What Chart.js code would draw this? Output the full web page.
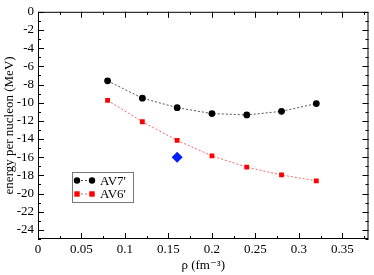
<!DOCTYPE html>
<html>
<head>
<meta charset="utf-8">
<script src="https://cdn.jsdelivr.net/npm/chart.js@4"></script>
<style>
  html, body { margin: 0; padding: 0; background: #fff; }
  #wrap { width: 374px; height: 275px; }
</style>
</head>
<body>
<div id="wrap"><canvas id="chart" width="374" height="275"></canvas></div>
<script>
const densities = [0.08, 0.12, 0.16, 0.20, 0.24, 0.28, 0.32];
const av7 = [-7.6, -9.5, -10.55, -11.2, -11.35, -10.95, -10.1];
const av6 = [-9.75, -12.1, -14.15, -15.85, -17.1, -17.95, -18.6];
const extraPoint = [{ x: 0.16, y: -16.0 }];
const xTicks = [0, 0.05, 0.1, 0.15, 0.2, 0.25, 0.3, 0.35];
const yTicks = [0, -2, -4, -6, -8, -10, -12, -14, -16, -18, -20, -22, -24];
const labels = ["AV7'", "AV6'"];

const FONT = "'Liberation Serif', 'DejaVu Serif', serif";

function pts(ys) {
  return densities.map((x, i) => ({ x, y: ys[i] }));
}

// frame + inward ticks on all four sides, like the original plot
const framePlugin = {
  id: "frame",
  afterDatasetsDraw(chart) {
    const { ctx, chartArea: a, scales } = chart;
    ctx.save();
    ctx.strokeStyle = "#000";
    ctx.lineWidth = 1;
    ctx.strokeRect(a.left + 0.5, a.top + 0.5, a.right - a.left - 1, a.bottom - a.top - 1);
    ctx.beginPath();
    for (let v = 0; v <= 0.38 + 1e-9; v += 0.025) {
      const x = Math.round(scales.x.getPixelForValue(v)) + 0.5;
      const len = Math.abs(v / 0.05 - Math.round(v / 0.05)) < 1e-6 ? 6 : 3;
      ctx.moveTo(x, a.bottom); ctx.lineTo(x, a.bottom - len);
      ctx.moveTo(x, a.top); ctx.lineTo(x, a.top + len);
    }
    for (let v = 0; v >= -25; v -= 1) {
      const y = Math.round(scales.y.getPixelForValue(v)) + 0.5;
      const len = v % 2 === 0 ? 6 : 3;
      ctx.moveTo(a.left, y); ctx.lineTo(a.left + len, y);
      ctx.moveTo(a.right, y); ctx.lineTo(a.right - len, y);
    }
    ctx.stroke();

    // legend box
    const bx = 72, by = 172, bw = 61, bh = 30;
    ctx.fillStyle = "#fff";
    ctx.fillRect(bx, by, bw, bh);
    ctx.strokeStyle = "#777";
    ctx.strokeRect(bx + 0.5, by + 0.5, bw, bh);
    chart.data.datasets.slice(0, 2).forEach((ds, i) => {
      const y = by + 8.5 + i * 13.5;
      ctx.strokeStyle = ds.borderColor;
      ctx.setLineDash(ds.borderDash);
      ctx.beginPath();
      ctx.moveTo(77, y); ctx.lineTo(92, y);
      ctx.stroke();
      ctx.setLineDash([]);
      ctx.fillStyle = ds.pointBackgroundColor;
      [77, 92].forEach(px => {
        ctx.beginPath();
        if (ds.pointStyle === "rect") ctx.rect(px - 2.7, y - 2.7, 5.4, 5.4);
        else ctx.arc(px, y, 3.2, 0, Math.PI * 2);
        ctx.fill();
      });
      ctx.fillStyle = "#000";
      ctx.font = "13px " + FONT;
      ctx.textBaseline = "middle";
      ctx.fillText(ds.label, 100, y + 1);
    });
    ctx.restore();
  }
};

new Chart(document.getElementById("chart"), {
  type: "scatter",
  data: {
    datasets: [
      {
        label: labels[0],
        data: pts(av7),
        showLine: true,
        borderColor: "#555",
        borderWidth: 1,
        borderDash: [2, 2],
        pointStyle: "circle",
        pointRadius: 3.4,
        pointBackgroundColor: "#000",
        pointBorderColor: "#000",
        pointBorderWidth: 0
      },
      {
        label: labels[1],
        data: pts(av6),
        showLine: true,
        borderColor: "#ff6060",
        borderWidth: 1,
        borderDash: [2, 2],
        pointStyle: "rect",
        pointRadius: 3.4,
        pointBackgroundColor: "#ff0000",
        pointBorderColor: "#ff0000",
        pointBorderWidth: 0
      },
      {
        label: "exp",
        data: extraPoint,
        pointStyle: "rectRot",
        pointRadius: 5.5,
        pointBackgroundColor: "#0020ff",
        pointBorderColor: "#0020ff",
        pointBorderWidth: 0
      }
    ]
  },
  plugins: [framePlugin],
  options: {
    responsive: false,
    animation: false,
    layout: { padding: { top: 5, right: 2, left: 0, bottom: 0 } },
    plugins: { legend: { display: false }, tooltip: { enabled: false } },
    scales: {
      x: {
        type: "linear",
        min: 0,
        max: 0.38,
        afterBuildTicks: s => { s.ticks = xTicks.map(v => ({ value: v })); },
        afterFit: s => { s.height = 36; },
        grid: { display: false, drawTicks: false, tickLength: 0 },
        border: { display: false },
        ticks: {
          color: "#000",
          font: { family: FONT, size: 13 },
          padding: 3,
          maxRotation: 0,
          callback: v => String(Math.round(v * 100) / 100)
        },
        title: {
          display: true,
          text: "ρ (fm⁻³)",
          color: "#000",
          font: { family: FONT, size: 13 },
          padding: { top: 0, bottom: 2 }
        }
      },
      y: {
        type: "linear",
        min: -25,
        max: 0,
        afterBuildTicks: s => { s.ticks = yTicks.map(v => ({ value: v })); },
        afterFit: s => { s.width = 38; },
        grid: { display: false, drawTicks: false, tickLength: 0 },
        border: { display: false },
        ticks: {
          color: "#000",
          font: { family: FONT, size: 13 },
          padding: 4
        },
        title: {
          display: true,
          text: "energy per nucleon (MeV)",
          color: "#000",
          font: { family: FONT, size: 13 },
          padding: { top: 2, bottom: 0 }
        }
      }
    }
  }
});
</script>
</body>
</html>
